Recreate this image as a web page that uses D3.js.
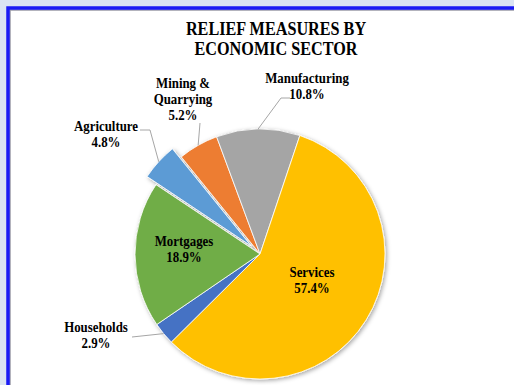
<!DOCTYPE html>
<html>
<head>
<meta charset="utf-8">
<script src="https://cdn.jsdelivr.net/npm/d3@7"></script>
<style>
  body { margin: 0; background: #dae3f3; }
  svg { display: block; }
</style>
</head>
<body>
<svg id="chart" width="514" height="385"></svg>
<script>
  'use strict';

  // data, in the order the spreadsheet plots it
  var sectors = ['Agriculture', 'Mining & Quarrying', 'Manufacturing', 'Services', 'Households', 'Mortgages'];
  var shares  = [4.8, 5.2, 10.8, 57.4, 2.9, 18.9];
  var labelLines = [['Agriculture'], ['Mining &', 'Quarrying'], ['Manufacturing'], ['Services'], ['Households'], ['Mortgages']];
  var colors  = ['#5b9bd5', '#ed7d31', '#a5a5a5', '#ffc000', '#4472c4', '#70ad47'];
  var titleLines = ['RELIEF MEASURES BY', 'ECONOMIC SECTOR'];

  // where each label sits (first baseline) and where its leader line starts
  var layout = {
    'Agriculture':        { x: 106, y: 131, lead: [[140, 130], [150, 130]] },
    'Mining & Quarrying': { x: 183, y: 88,  lead: [[200, 123]] },
    'Manufacturing':      { x: 307, y: 83,  lead: [[290, 98], [281, 98]] },
    'Services':           { x: 312, y: 277 },
    'Households':         { x: 96,  y: 332, lead: [[132, 337]] },
    'Mortgages':          { x: 184, y: 246 }
  };

  var cx = 260, cy = 254, radius = 125, explode = { 'Agriculture': 12 };
  var deg = Math.PI / 180, lineStep = 16;

  var svg = d3.select('#chart');

  // frame
  svg.append('rect').attr('x', 10).attr('y', 10).attr('width', 520).attr('height', 400)
      .attr('fill', '#fff').attr('stroke', '#9a9aa8').attr('stroke-width', 1.5);
  svg.append('rect').attr('x', 8).attr('y', 8).attr('width', 520).attr('height', 400)
      .attr('fill', 'none').attr('stroke', '#1a1af5').attr('stroke-width', 3.5);

  var defs = svg.append('defs');
  defs.append('filter').attr('id', 'shadow').attr('x', '-20%').attr('y', '-20%')
      .attr('width', '140%').attr('height', '140%')
    .append('feDropShadow').attr('dx', 1.5).attr('dy', 1.5).attr('stdDeviation', 2)
      .attr('flood-color', '#000').attr('flood-opacity', 0.35);

  // title
  var title = svg.append('g')
      .style('font-family', '"Liberation Serif", "Times New Roman", serif')
      .style('font-weight', 'bold').style('font-size', '18px');
  titleLines.forEach(function (t, i) {
    title.append('text')
        .attr('transform', 'translate(276,' + (35 + i * 20) + ') scale(0.9,1)')
        .style('text-anchor', 'middle')
        .text(t);
  });

  var pie = d3.pie().sort(null)
      .startAngle(-56.3 * deg).endAngle(303.7 * deg);
  var arc = d3.arc().innerRadius(0).outerRadius(radius);
  var arcs = pie(shares);

  function offset(d, i) {
    var e = explode[sectors[i]] || 0, a = (d.startAngle + d.endAngle) / 2;
    return [Math.sin(a) * e, -Math.cos(a) * e];
  }

  var g = svg.append('g').attr('transform', 'translate(' + cx + ',' + cy + ')');

  g.append('g').attr('filter', 'url(#shadow)')
    .selectAll('path')
      .data(arcs)
    .enter().append('path')
      .attr('transform', function (d, i) { var o = offset(d, i); return 'translate(' + o[0] + ',' + o[1] + ')'; })
      .attr('d', arc)
      .style('fill', function (d, i) { return colors[i]; })
      .style('stroke', '#fff').style('stroke-width', 0.8);

  // leader lines, ending on the rim at the middle of the slice
  arcs.forEach(function (d, i) {
    var lay = layout[sectors[i]];
    if (!lay.lead) return;
    var a = (d.startAngle + d.endAngle) / 2, o = offset(d, i);
    var end = [cx + o[0] + Math.sin(a) * radius, cy + o[1] - Math.cos(a) * radius];
    svg.append('path')
        .attr('d', d3.line()(lay.lead.concat([end])))
        .style('fill', 'none').style('stroke', '#a6a6a6').style('stroke-width', 1);
  });

  // labels
  var fmt = function (v) { return d3.format('.1f')(v) + '%'; };
  var labels = svg.append('g')
      .style('font-family', '"Liberation Serif", "Times New Roman", serif')
      .style('font-weight', 'bold').style('font-size', '14px').style('fill', '#000');
  arcs.forEach(function (d, i) {
    var lay = layout[sectors[i]];
    labelLines[i].concat([fmt(shares[i])]).forEach(function (t, j) {
      labels.append('text')
          .attr('transform', 'translate(' + lay.x + ',' + (lay.y + j * lineStep) + ') scale(0.92,1)')
          .style('text-anchor', 'middle')
          .text(t);
    });
  });
</script>
</body>
</html>
